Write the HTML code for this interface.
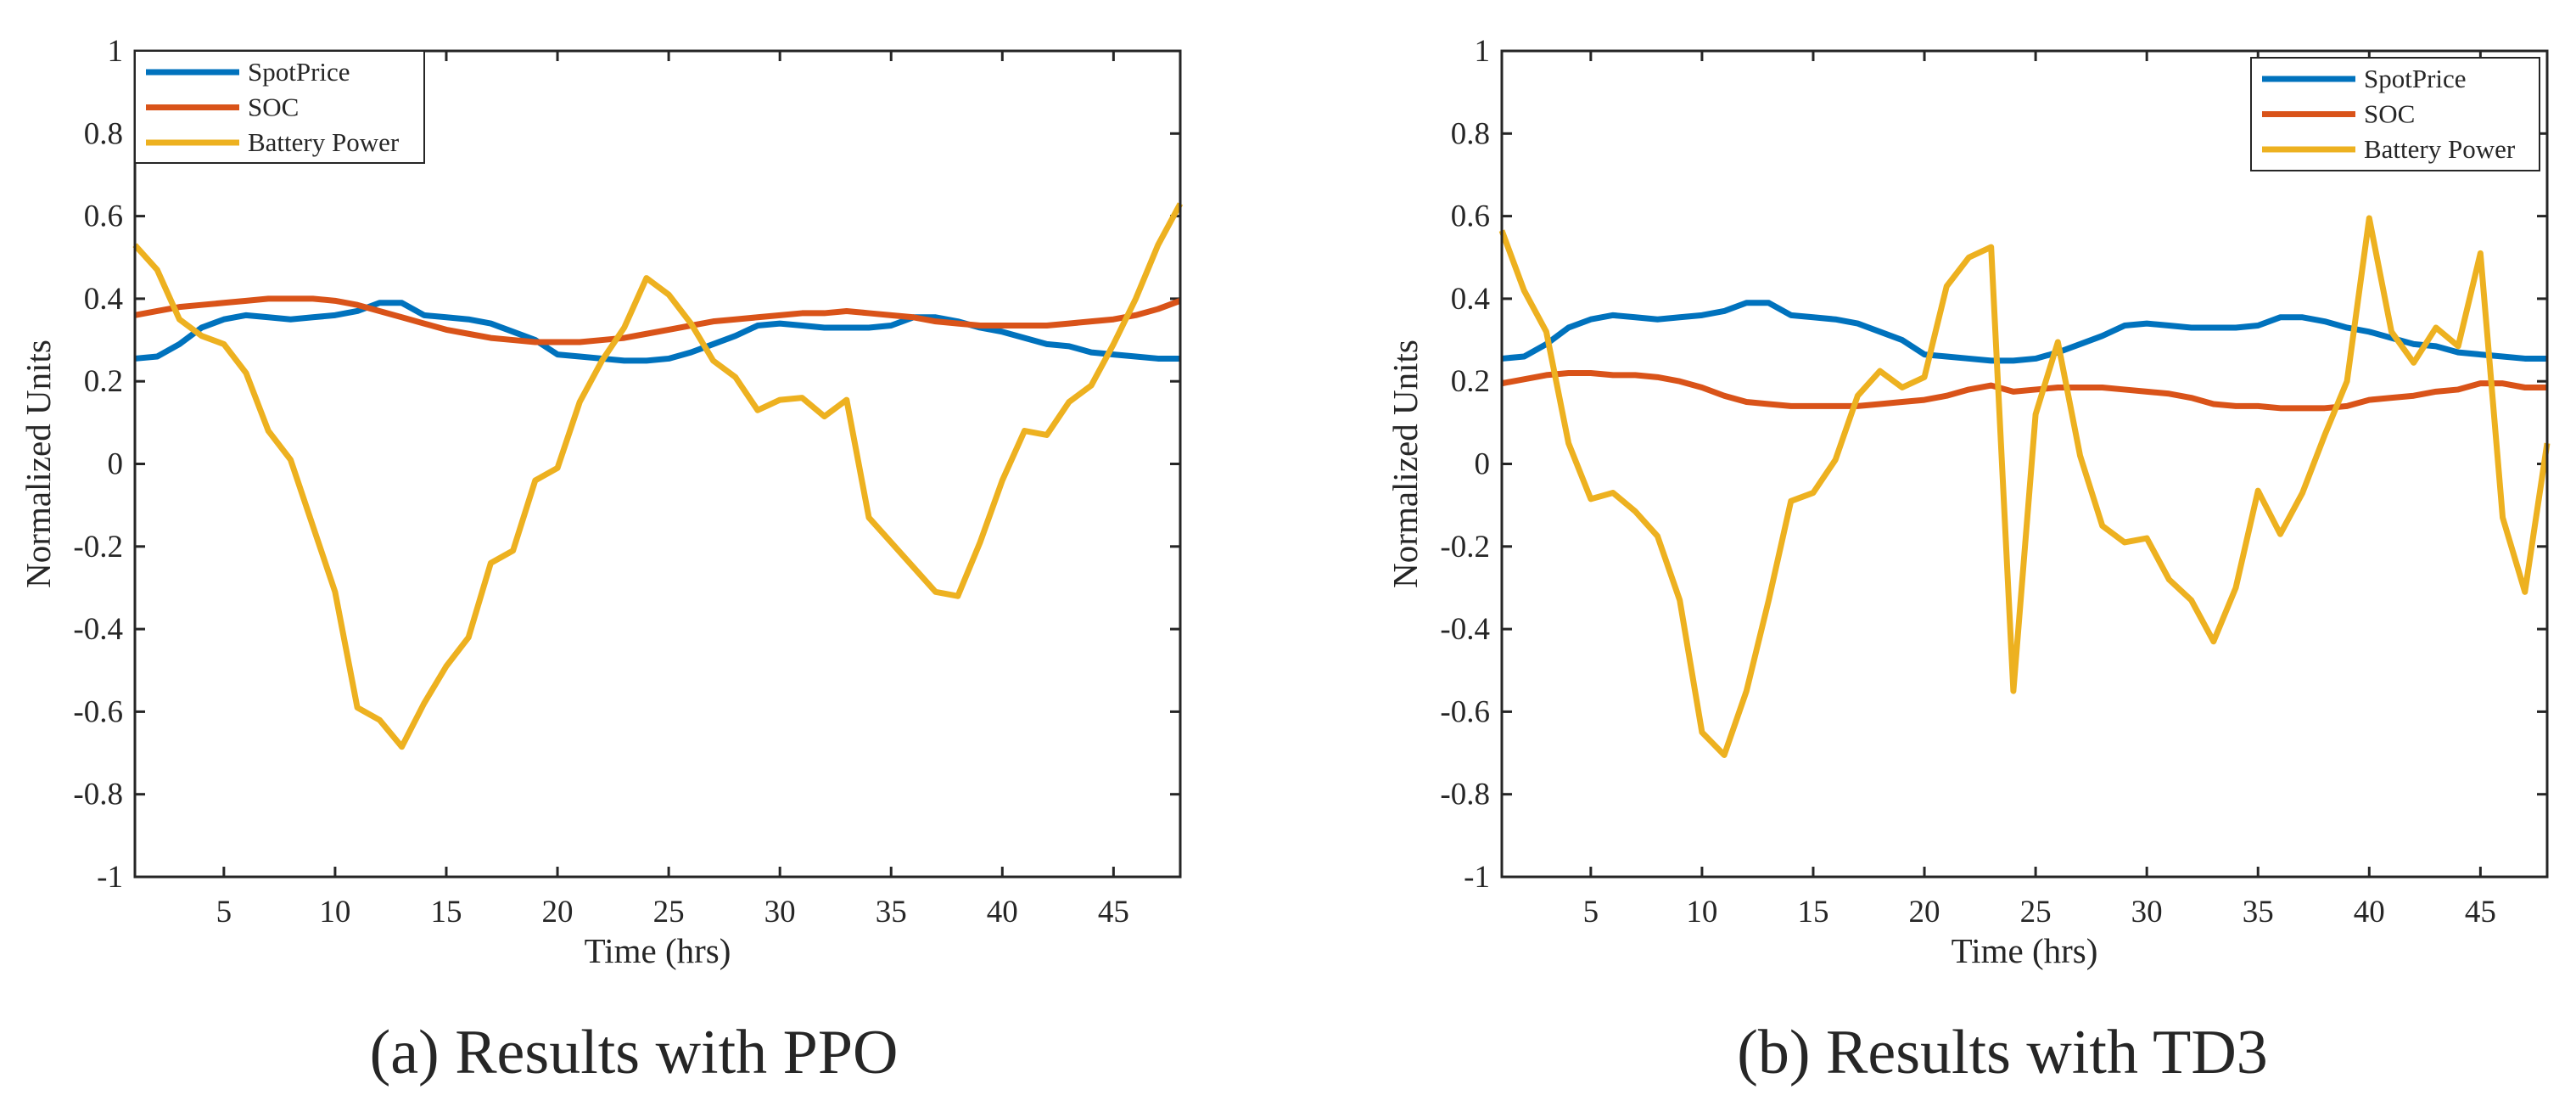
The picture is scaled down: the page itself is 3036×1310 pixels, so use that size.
<!DOCTYPE html>
<html><head><meta charset="utf-8"><style>
html,body{margin:0;padding:0;background:#fff;width:3036px;height:1310px;overflow:hidden}
svg{display:block}
text{font-family:"Liberation Serif",serif;fill:#262626}
</style></head><body>
<svg id="fig" width="3036" height="1310" viewBox="0 0 3036 1310"></svg>
<script>
const hours = Array.from({length:48},(_,i)=>i+1);
const spotPPO = [.255,.26,.29,.33,.35,.36,.355,.35,.355,.36,.37,.39,.39,.36,.355,.35,.34,.32,.30,.265,.26,.255,.25,.25,.255,.27,.29,.31,.335,.34,.335,.33,.33,.33,.335,.355,.355,.345,.33,.32,.305,.29,.285,.27,.265,.26,.255,.255];
const socPPO = [.36,.37,.38,.385,.39,.395,.40,.40,.40,.395,.385,.37,.355,.34,.325,.315,.305,.30,.295,.295,.295,.30,.305,.315,.325,.335,.345,.35,.355,.36,.365,.365,.37,.365,.36,.355,.345,.34,.335,.335,.335,.335,.34,.345,.35,.36,.375,.395];
const batPPO = [.53,.47,.35,.31,.29,.22,.08,.01,-.15,-.31,-.59,-.62,-.685,-.58,-.49,-.42,-.24,-.21,-.04,-.01,.15,.25,.33,.45,.41,.34,.25,.21,.13,.155,.16,.115,.155,-.13,-.19,-.25,-.31,-.32,-.19,-.04,.08,.07,.15,.19,.29,.40,.53,.63];
const spotTD3 = [.255,.26,.29,.33,.35,.36,.355,.35,.355,.36,.37,.39,.39,.36,.355,.35,.34,.32,.30,.265,.26,.255,.25,.25,.255,.27,.29,.31,.335,.34,.335,.33,.33,.33,.335,.355,.355,.345,.33,.32,.305,.29,.285,.27,.265,.26,.255,.255];
const socTD3 = [.195,.205,.215,.22,.22,.215,.215,.21,.20,.185,.165,.15,.145,.14,.14,.14,.14,.145,.15,.155,.165,.18,.19,.175,.18,.185,.185,.185,.18,.175,.17,.16,.145,.14,.14,.135,.135,.135,.14,.155,.16,.165,.175,.18,.195,.195,.185,.185];
const batTD3 = [.565,.42,.32,.05,-.085,-.07,-.115,-.175,-.33,-.65,-.705,-.55,-.33,-.09,-.07,.01,.165,.225,.185,.21,.43,.5,.525,-.55,.12,.295,.02,-.15,-.19,-.18,-.28,-.33,-.43,-.3,-.065,-.17,-.07,.07,.2,.595,.32,.245,.33,.285,.51,-.13,-.31,.05];
const xTicks = [5,10,15,20,25,30,35,40,45];
const yTicks = [-1,-0.8,-0.6,-0.4,-0.2,0,0.2,0.4,0.6,0.8,1];
const seriesNames = ["SpotPrice","SOC","Battery Power"];
const colors = ["#0072BD","#D95319","#EDB120"];

const NS="http://www.w3.org/2000/svg";
const svg=document.getElementById('fig');
function mk(tag,attrs,parent){const e=document.createElementNS(NS,tag);for(const k in attrs)e.setAttribute(k,attrs[k]);(parent||svg).appendChild(e);return e;}

function drawPanel(id,L,caption,capX,series,legend){
  const T=60,B=1033,R=L+1232;
  const g=mk('g',{});
  
  
  const sx=v=>L+(v-1)*(R-L)/47;
  const sy=v=>B-(v+1)*(B-T)/2;
  yTicks.forEach(v=>{
    const y=sy(v);
    mk('line',{x1:L,y1:y,x2:L+12,y2:y,stroke:'#262626','stroke-width':3},g);
    mk('line',{x1:R,y1:y,x2:R-12,y2:y,stroke:'#262626','stroke-width':3},g);
    const t=mk('text',{x:L-14,y:y+12,'font-size':37,'text-anchor':'end'},g);
    t.textContent=String(v);
    
    
  });
  xTicks.forEach(v=>{
    const x=sx(v);
    mk('line',{x1:x,y1:B,x2:x,y2:B-12,stroke:'#262626','stroke-width':3},g);
    mk('line',{x1:x,y1:T,x2:x,y2:T+12,stroke:'#262626','stroke-width':3},g);
    const t=mk('text',{x:x,y:B+53,'font-size':37,'text-anchor':'middle'},g);
    t.textContent=String(v);
    
    
  });
  series.forEach((s,i)=>{
    const p=mk('polyline',{points:s.map((v,j)=>sx(hours[j])+','+sy(v)).join(' '),fill:'none',stroke:colors[i],'stroke-width':7,'stroke-linejoin':'round'},g);
    
    
  });
  mk('rect',{x:L,y:T,width:R-L,height:B-T,fill:'none',stroke:'#262626','stroke-width':3},g);
  const lg=mk('g',{},g);
  
  
  mk('rect',{x:legend.x,y:legend.y,width:legend.w,height:legend.h,fill:'#fff',stroke:'#262626','stroke-width':2},lg);
  seriesNames.forEach((n,i)=>{
    const y=legend.y+legend.r0+i*41.5;
    mk('line',{x1:legend.x+13,y1:y,x2:legend.x+123,y2:y,stroke:colors[i],'stroke-width':7},lg);
    const t=mk('text',{x:legend.x+133,y:y+10,'font-size':31},lg);
    t.textContent=n;
    
    
  });
  const xl=mk('text',{x:(L+R)/2,y:1134,'font-size':41,'text-anchor':'middle'},g);
  xl.textContent='Time (hrs)';
  
  
  const yl=mk('text',{x:0,y:0,'font-size':41,'text-anchor':'middle',transform:`translate(${L-100},${(T+B)/2}) rotate(-90)`},g);
  yl.textContent='Normalized Units';
  
  
  const cap=mk('text',{x:capX,y:1264,'font-size':74,'text-anchor':'middle'},g);
  cap.textContent=caption;
  
  
}
drawPanel('panel-ppo',159,'(a)  Results with PPO',747,[spotPPO,socPPO,batPPO],{x:159,y:60,w:341,h:132,r0:25});
drawPanel('panel-td3',1770,'(b)  Results with TD3',2360,[spotTD3,socTD3,batTD3],{x:2653,y:68,w:340,h:133,r0:25});
</script>
</body></html>
